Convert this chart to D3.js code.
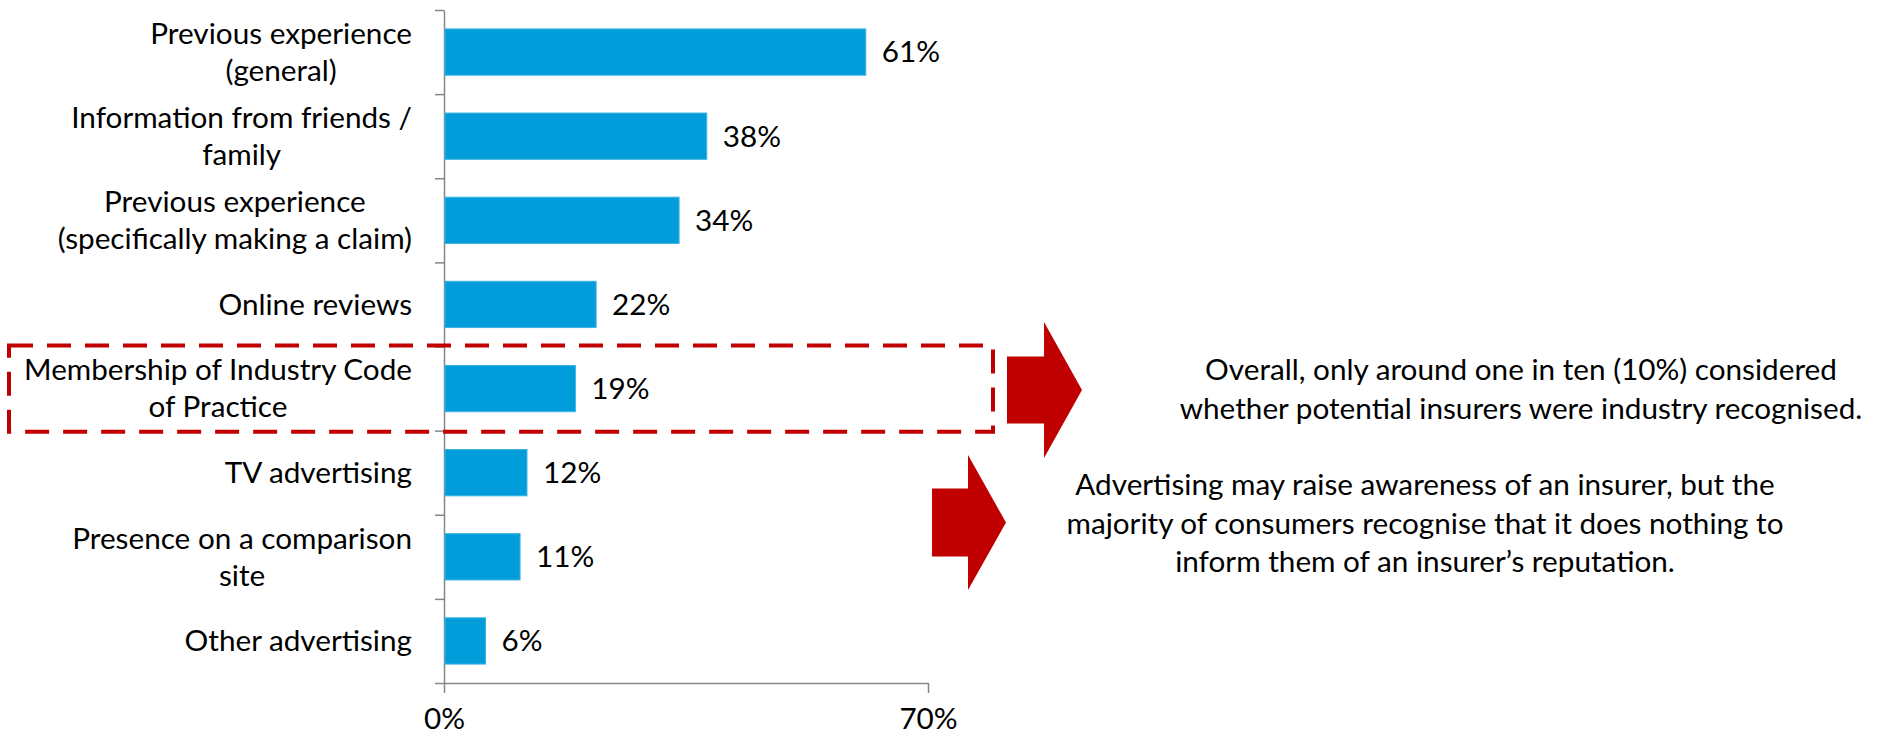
<!DOCTYPE html>
<html>
<head>
<meta charset="utf-8">
<script src="https://cdn.jsdelivr.net/npm/d3@7"></script>
<style>
  body { margin: 0; background: #fff; }
  text { font-family: Lato, "Open Sans", sans-serif; fill: #000; }
</style>
</head>
<body>
<div id="chart"></div>
<script>
var categories = [
    "Previous experience|(general)",
    "Information from friends /|family",
    "Previous experience|(specifically making a claim)",
    "Online reviews",
    "Membership of Industry Code|of Practice",
    "TV advertising",
    "Presence on a comparison|site",
    "Other advertising"
];
var values = [61, 38, 34, 22, 19, 12, 11, 6];
var xTicks = [0, 70];
var highlighted = "Membership of Industry Code|of Practice";
var noteTop = ["Overall, only around one in ten (10%) considered",
    "whether potential insurers were industry recognised."];
var noteBottom = ["Advertising may raise awareness of an insurer, but the",
    "majority of consumers recognise that it does nothing to",
    "inform them of an insurer\u2019s reputation."];

var width = 1881, height = 737;
var fontSize = 29.7;
var red = "#C00000", axisColor = "#868686";

var svg = d3.select("#chart").append("svg")
    .attr("width", width)
    .attr("height", height);

var x = d3.scaleLinear().domain([0, 70]).range([444, 928]);
var y = d3.scaleBand().domain(categories).range([10, 683])
    .paddingInner(0.45).paddingOuter(0.225);

// category axis: ticks sit on the band boundaries
var idx = d3.scaleLinear().domain([0, categories.length]).range([10, 683]);
svg.append("g")
    .attr("transform", "translate(" + x(0) + ",0)")
    .call(d3.axisLeft(idx).tickValues(d3.range(categories.length + 1))
        .tickFormat("").tickSizeInner(9).tickSizeOuter(0))
    .call(g => g.selectAll("path,line").attr("stroke", axisColor).attr("stroke-width", 1.5));

svg.append("g")
    .attr("transform", "translate(0,683)")
    .call(d3.axisBottom(x).tickValues(xTicks).tickFormat(d => d + "%")
        .tickSizeInner(10).tickSizeOuter(0).tickPadding(15))
    .call(g => g.selectAll("path,line").attr("stroke", axisColor).attr("stroke-width", 1.5))
    .call(g => g.selectAll("text")
        .style("font-family", "Lato, sans-serif")
        .attr("font-size", fontSize).attr("fill", "#000"));

// bars
svg.append("g").selectAll("rect")
    .data(categories)
    .join("rect")
    .attr("x", x(0) + 1)
    .attr("y", d => y(d))
    .attr("width", (d, i) => x(values[i]) - x(0) - 1)
    .attr("height", y.bandwidth())
    .attr("fill", "#009DDA")
    .attr("stroke", "#3DB2E4")
    .attr("stroke-width", 1);

// value labels
svg.append("g").selectAll("text")
    .data(categories)
    .join("text")
    .attr("x", (d, i) => x(values[i]) + 16)
    .attr("y", d => y(d) + y.bandwidth() / 2)
    .attr("dy", "0.35em")
    .attr("font-size", fontSize)
    .text((d, i) => values[i] + "%");

// category labels: block right-aligned, lines centred within block
var labelRight = 412, lineGap = 37;
categories.forEach(function (cat) {
    var lines = cat.split("|");
    var cy = y(cat) + y.bandwidth() / 2;
    var g = svg.append("g");
    var texts = lines.map(function (line, i) {
        return g.append("text")
            .attr("y", cy + (i - (lines.length - 1) / 2) * lineGap)
            .attr("dy", "0.35em")
            .attr("font-size", fontSize)
            .attr("text-anchor", "middle")
            .text(line);
    });
    var maxW = d3.max(texts, t => t.node().getComputedTextLength());
    texts.forEach(t => t.attr("x", labelRight - maxW / 2));
});

// dashed highlight box
var step = y.step();
svg.append("rect")
    .attr("x", 9)
    .attr("y", y(highlighted) - step * 0.225 - 1)
    .attr("width", 984)
    .attr("height", step + 2)
    .attr("fill", "none")
    .attr("stroke", red)
    .attr("stroke-width", 4)
    .attr("stroke-dasharray", "24,14");

// block arrows
function arrow(x0, cy, bodyW, bodyH, headW, headH) {
    var xh = x0 + bodyW;
    return [[x0, cy - bodyH / 2], [xh, cy - bodyH / 2], [xh, cy - headH / 2],
        [xh + headW, cy], [xh, cy + headH / 2], [xh, cy + bodyH / 2], [x0, cy + bodyH / 2]];
}
svg.append("polygon")
    .attr("points", arrow(1007, 390, 37, 67, 38, 136).join(" "))
    .attr("fill", red);
svg.append("polygon")
    .attr("points", arrow(932, 522.5, 36, 68, 38, 135).join(" "))
    .attr("fill", red);

// notes
function note(lines, cx, firstY) {
    svg.append("g").selectAll("text")
        .data(lines)
        .join("text")
        .attr("x", cx)
        .attr("y", (d, i) => firstY + i * 38.5)
        .attr("dy", "0.35em")
        .attr("text-anchor", "middle")
        .attr("font-size", fontSize)
        .text(d => d);
}
note(noteTop, 1521, 370);
note(noteBottom, 1425, 485);
</script>
</body>
</html>
